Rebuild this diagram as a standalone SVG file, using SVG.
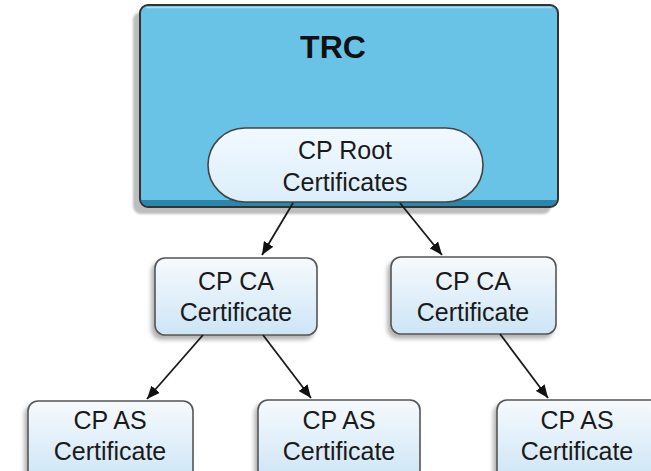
<svg xmlns="http://www.w3.org/2000/svg" width="651" height="471" viewBox="0 0 651 471">
<style>
  .lbl { font-family: "Liberation Sans", Arial, sans-serif; font-size: 25px; fill: #1a1a1a; text-anchor: middle; }
  .title { font-family: "Liberation Sans", Arial, sans-serif; font-size: 32px; font-weight: bold; fill: #111; text-anchor: middle; }
  .box { fill: url(#boxGrad); stroke: #555; stroke-width: 1.6; filter: url(#shadow); }
  .edge { stroke: #1a1a1a; stroke-width: 1.8; fill: none; marker-end: url(#arrow); }
</style>
<defs>
  <linearGradient id="boxGrad" x1="0" y1="0" x2="0" y2="1">
    <stop offset="0" stop-color="#f6fafd"/>
    <stop offset="1" stop-color="#cde5f6"/>
  </linearGradient>
  <linearGradient id="rootGrad" x1="0" y1="0" x2="0" y2="1">
    <stop offset="0" stop-color="#f2f9fe"/>
    <stop offset="1" stop-color="#dbeefb"/>
  </linearGradient>
  <filter id="shadow" x="-20%" y="-20%" width="140%" height="150%">
    <feDropShadow dx="-3" dy="4" stdDeviation="2" flood-color="#000" flood-opacity="0.3"/>
  </filter>
  <filter id="blur" x="-10%" y="-10%" width="120%" height="130%">
    <feGaussianBlur stdDeviation="1.2"/>
  </filter>
  <marker id="arrow" viewBox="0 0 13 11" refX="13" refY="5.5" markerWidth="13" markerHeight="11" markerUnits="userSpaceOnUse" orient="auto">
    <path d="M0,0 L13,5.5 L0,11 z" fill="#111"/>
  </marker>
</defs>

<g id="trc">
  <rect x="133" y="12" width="418" height="202" rx="8" fill="#bdbdbd" filter="url(#blur)"/>
  <rect x="140" y="5" width="418" height="202" rx="8" fill="#69c3e6"/>
  <path d="M141,200 L557,200 L557,199 Q557,206 550,206 L148,206 Q141,206 141,199 Z" fill="#2b86ab"/>
  <line x1="146" y1="7.5" x2="552" y2="7.5" stroke="#a8dcf1" stroke-width="1.5"/>
  <rect x="140" y="5" width="418" height="202" rx="8" fill="none" stroke="#333" stroke-width="2"/>
  <text class="title" x="333" y="58">TRC</text>
</g>

<g id="root">
  <rect x="208" y="128" width="275" height="74" rx="37" fill="url(#rootGrad)" stroke="#444" stroke-width="1.6"/>
  <text class="lbl" x="345" y="159">CP Root</text>
  <text class="lbl" x="345" y="191">Certificates</text>
</g>

<g id="ca1">
  <rect class="box" x="155" y="258" width="162" height="77" rx="10"/>
  <text class="lbl" x="236" y="290">CP CA</text>
  <text class="lbl" x="236" y="321">Certificate</text>
</g>

<g id="ca2">
  <rect class="box" x="391" y="257" width="165" height="77" rx="10"/>
  <text class="lbl" x="473" y="290">CP CA</text>
  <text class="lbl" x="473" y="321">Certificate</text>
</g>

<g id="as1">
  <rect class="box" x="28" y="401" width="165" height="80" rx="10"/>
  <text class="lbl" x="110" y="429">CP AS</text>
  <text class="lbl" x="110" y="460">Certificate</text>
</g>

<g id="as2">
  <rect class="box" x="258" y="400" width="162" height="80" rx="10"/>
  <text class="lbl" x="339" y="429">CP AS</text>
  <text class="lbl" x="339" y="460">Certificate</text>
</g>

<g id="as3">
  <rect class="box" x="497" y="400" width="165" height="80" rx="10"/>
  <text class="lbl" x="577" y="429">CP AS</text>
  <text class="lbl" x="577" y="460">Certificate</text>
</g>

<g id="connectors">
  <line class="edge" x1="293" y1="203" x2="262" y2="255"/>
  <line class="edge" x1="400" y1="203" x2="442" y2="255"/>
  <line class="edge" x1="203" y1="335" x2="147" y2="399"/>
  <line class="edge" x1="263" y1="335" x2="311" y2="398"/>
  <line class="edge" x1="500" y1="334" x2="548" y2="398"/>
</g>
</svg>
